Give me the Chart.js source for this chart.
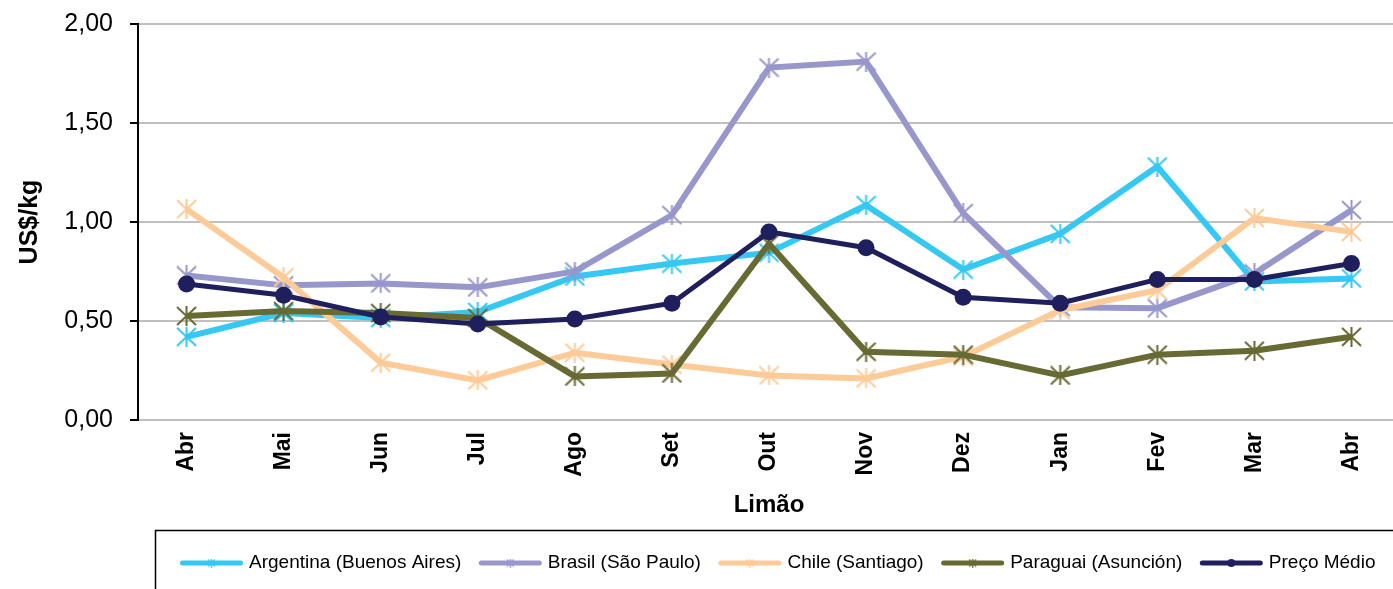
<!DOCTYPE html>
<html>
<head>
<meta charset="utf-8">
<style>
  html, body { margin: 0; padding: 0; background: #fff; overflow: hidden; }
  #wrap { width: 1410px; height: 589px; }
</style>
<script src="https://cdn.jsdelivr.net/npm/chart.js@4"></script>
</head>
<body>
<div id="wrap"><canvas id="chart" width="1410" height="589"></canvas></div>
<script>
// Monthly lemon prices, US$/kg
const months = ['Abr', 'Mai', 'Jun', 'Jul', 'Ago', 'Set', 'Out', 'Nov', 'Dez', 'Jan', 'Fev', 'Mar', 'Abr'];
const argentina = [0.42, 0.54, 0.515, 0.545, 0.725, 0.79, 0.845, 1.085, 0.76, 0.94, 1.28, 0.70, 0.715];
const brasil    = [0.73, 0.68, 0.69, 0.67, 0.75, 1.035, 1.78, 1.81, 1.045, 0.57, 0.565, 0.74, 1.06];
const chile     = [1.065, 0.72, 0.29, 0.20, 0.34, 0.28, 0.225, 0.21, 0.32, 0.555, 0.655, 1.02, 0.95];
const paraguai  = [0.525, 0.55, 0.54, 0.515, 0.22, 0.235, 0.89, 0.345, 0.33, 0.225, 0.33, 0.35, 0.42];
const precoMedio = [0.687, 0.63, 0.52, 0.485, 0.51, 0.59, 0.95, 0.87, 0.62, 0.59, 0.71, 0.71, 0.79];
const yTicks = [0, 0.5, 1, 1.5, 2];

const FONT = "'Liberation Sans', Arial, sans-serif";

// Six-spoke asterisk marker drawn on a small canvas
function asterisk(color, w, h, lw) {
  const c = document.createElement('canvas');
  c.width = w; c.height = h;
  const g = c.getContext('2d');
  g.strokeStyle = color;
  g.lineWidth = lw;
  g.lineCap = 'butt';
  g.beginPath();
  g.moveTo(w / 2, 0); g.lineTo(w / 2, h);
  g.moveTo(1, 1); g.lineTo(w - 1, h - 1);
  g.moveTo(w - 1, 1); g.lineTo(1, h - 1);
  g.stroke();
  return c;
}

const series = [
  { label: 'Argentina (Buenos Aires)', data: argentina, color: '#35C8F2', width: 6, order: 4 },
  { label: 'Brasil (São Paulo)', data: brasil, color: '#9797CB', width: 6, order: 3 },
  { label: 'Chile (Santiago)', data: chile, color: '#FDCB98', width: 6, order: 2 },
  { label: 'Paraguai (Asunción)', data: paraguai, color: '#676A33', width: 6, order: 1 },
  { label: 'Preço Médio', data: precoMedio, color: '#201F5E', width: 5, order: 0, circle: true }
];

const datasets = series.map(s => ({
  label: s.label,
  data: s.data,
  borderColor: s.color,
  backgroundColor: s.color,
  borderWidth: s.width,
  tension: 0,
  order: s.order,
  pointStyle: s.circle ? 'circle' : asterisk(s.color, 21, 20, 2),
  pointRadius: s.circle ? 8.5 : 10,
  pointBorderWidth: 0,
  pointBackgroundColor: s.color,
  pointBorderColor: s.color
}));

const LEGEND_SHIFT = 10;
const LEGEND_BOX = 57;
const LEGEND_FONT = 19;
const legendMarkers = series.map(s => s.circle ? null : asterisk(s.color, 9, 9, 1.3));

// Frame around the legend, line samples with markers, small rightward nudge
const legendDecor = {
  id: 'legendDecor',
  afterLayout(chart) {
    const lg = chart.legend;
    lg.left += LEGEND_SHIFT;
    lg.right += LEGEND_SHIFT;
  },
  afterDraw(chart) {
    const lg = chart.legend;
    const ctx = chart.ctx;
    ctx.save();
    ctx.strokeStyle = '#000';
    ctx.lineWidth = 1.5;
    ctx.strokeRect(155.5, lg.top - 3, 1400, 200);
    lg.legendHitBoxes.forEach((hb, i) => {
      const s = series[i];
      const x0 = hb.left;
      const cy = hb.top + hb.height / 2;
      const x1 = hb.left + LEGEND_BOX + 1;
      ctx.strokeStyle = s.color;
      ctx.lineWidth = 5;
      ctx.lineCap = 'round';
      ctx.beginPath();
      ctx.moveTo(x0, cy);
      ctx.lineTo(x1, cy);
      ctx.stroke();
      const mx = (x0 + x1) / 2;
      if (s.circle) {
        ctx.fillStyle = s.color;
        ctx.beginPath();
        ctx.arc(mx, cy, 4, 0, Math.PI * 2);
        ctx.fill();
      } else {
        const m = legendMarkers[i];
        ctx.drawImage(m, mx - m.width / 2, cy - m.height / 2);
      }
    });
    ctx.restore();
  }
};

new Chart(document.getElementById('chart'), {
  type: 'line',
  data: { labels: months, datasets },
  options: {
    responsive: false,
    animation: false,
    devicePixelRatio: 1,
    layout: { padding: { top: 24, right: 6, bottom: 6.5, left: 0 } },
    plugins: {
      tooltip: { enabled: false },
      legend: {
        position: 'bottom',
        fullSize: false,
        align: 'center',
        labels: {
          boxWidth: LEGEND_BOX,
          boxHeight: 5,
          padding: 20,
          color: '#000',
          font: { family: FONT, size: LEGEND_FONT },
          generateLabels: chart => chart.data.datasets.map((d, i) => ({
            text: d.label,
            fillStyle: 'rgba(0,0,0,0)',
            strokeStyle: 'rgba(0,0,0,0)',
            lineWidth: 0,
            hidden: false,
            datasetIndex: i,
            fontColor: '#000'
          }))
        }
      }
    },
    scales: {
      x: {
        offset: true,
        grid: { display: false, drawTicks: false },
        border: { display: true, color: '#C0C0C0', width: 2 },
        ticks: {
          minRotation: 90,
          maxRotation: 90,
          padding: 12,
          color: '#000',
          font: { family: FONT, size: 23, weight: 'bold' }
        },
        title: {
          display: true,
          text: 'Limão',
          color: '#000',
          font: { family: FONT, size: 24, weight: 'bold' },
          padding: { top: 0, bottom: 14 }
        },
        afterFit(scale) { scale.height = 113.5; }
      },
      y: {
        min: 0,
        max: 2,
        afterBuildTicks(scale) { scale.ticks = yTicks.map(v => ({ value: v })); },
        grid: {
          color: '#C0C0C0',
          lineWidth: 2,
          tickColor: '#000',
          tickLength: 8,
          tickWidth: 2
        },
        border: { display: true, color: '#000', width: 2 },
        ticks: {
          padding: 17,
          color: '#000',
          // compact line height keeps the top label from adding extra top space
          font: { family: FONT, size: 25, lineHeight: 0.4 },
          callback: v => v.toFixed(2).replace('.', ',')
        },
        title: {
          display: true,
          text: 'US$/kg',
          color: '#000',
          font: { family: FONT, size: 25, weight: 'bold' },
          padding: { top: 15, bottom: 0 }
        },
        afterFit(scale) { scale.width = 138; }
      }
    }
  },
  plugins: [legendDecor]
});
</script>
</body>
</html>
